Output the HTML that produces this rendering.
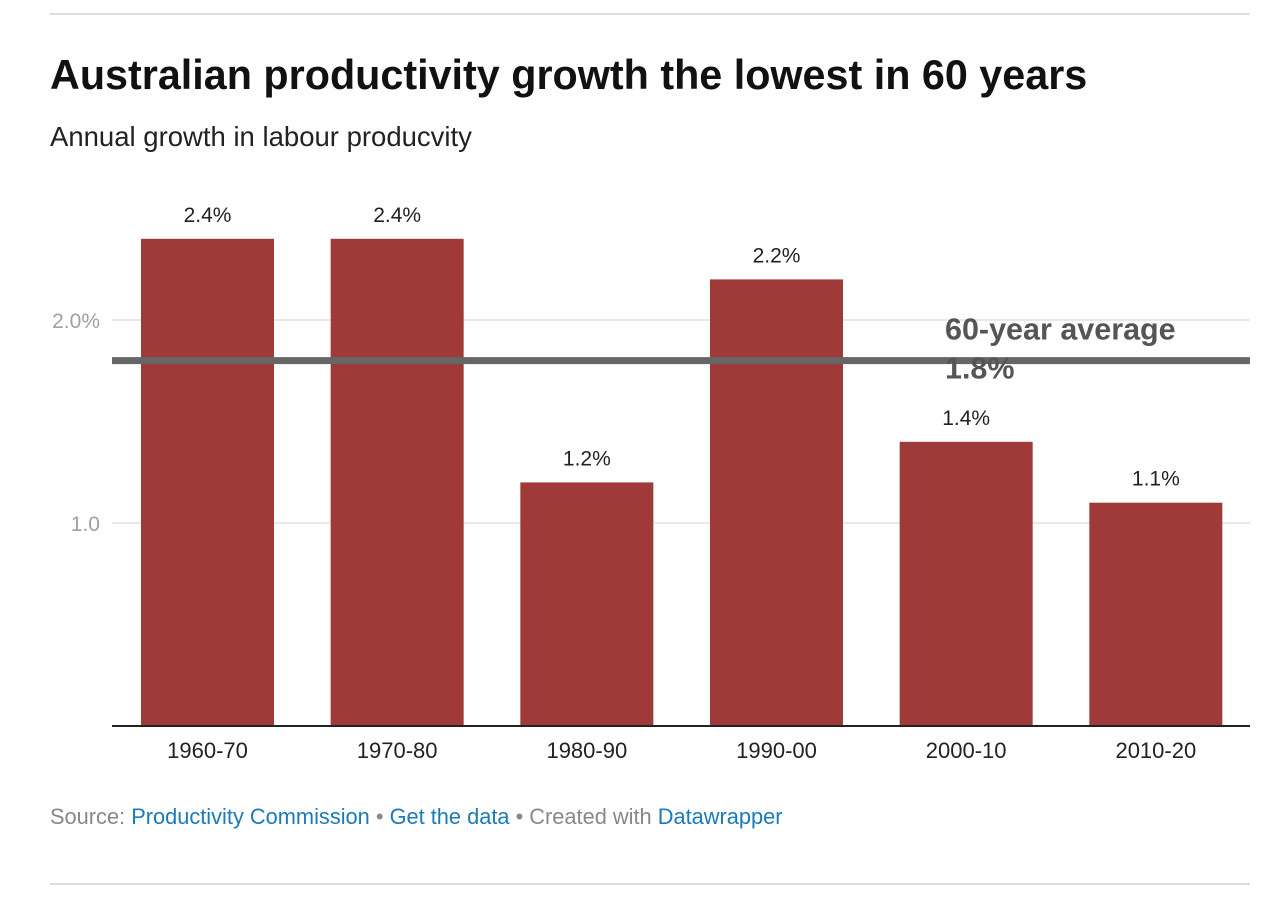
<!DOCTYPE html>
<html><head><meta charset="utf-8">
<style>
body{margin:0;background:#fff;font-family:"Liberation Sans",Arial,sans-serif;}
#wrap{position:relative;width:1278px;height:920px;overflow:hidden;}
.rule{position:absolute;left:50px;width:1200px;height:2px;background:#ddd;}
h1{position:absolute;left:50px;top:52px;margin:0;font-size:41.3px;font-weight:bold;color:#111;letter-spacing:0px;}
.sub{position:absolute;left:50px;top:121px;font-size:27.5px;color:#222;}
.foot{position:absolute;left:50px;top:804px;font-size:21.8px;color:#888;}
.foot a{color:#1b7ab8;text-decoration:none;}
</style></head><body>
<div id="wrap">
<div class="rule" style="top:13px"></div>
<h1>Australian productivity growth the lowest in 60 years</h1>
<div class="sub">Annual growth in labour producvity</div>
<svg id="chart" width="1278" height="920" style="position:absolute;left:0;top:0"></svg>
<div class="foot">Source: <a>Productivity Commission</a> • <a>Get the data</a> • Created with <a>Datawrapper</a></div>
<div class="rule" style="top:883px"></div>
</div>
<script>
const categories=["1960-70","1970-80","1980-90","1990-00","2000-10","2010-20"];
const values=[2.4,2.4,1.2,2.2,1.4,1.1];
const valueLabels=["2.4%","2.4%","1.2%","2.2%","1.4%","1.1%"];
const ticks=[1,2];
const tickLabels=["1.0","2.0%"];
const average=1.8;
const ns="http://www.w3.org/2000/svg";
const svg=document.getElementById("chart");
const x0=112,x1=1250,y0=726,unit=203;
const band=(x1-x0)/categories.length,pad=29,bw=133;
const y=v=>y0-v*unit;
const bx=i=>x0+i*band+pad;
function mk(t,a){const e=document.createElementNS(ns,t);for(const k in a)e.setAttribute(k,a[k]);svg.appendChild(e);return e;}
ticks.forEach((t,i)=>{
 const g=mk("line",{x1:x0,x2:x1,y1:y(t),y2:y(t),stroke:"#e2e2e2","stroke-width":1.5});
 
 
 const l=mk("text",{x:100,y:y(t)+8,"text-anchor":"end","font-size":21,fill:"#a0a0a0"});
 l.textContent=tickLabels[i];
 
 
});
categories.forEach((c,i)=>{
 const r=mk("rect",{x:bx(i),y:y(values[i]),width:bw,height:values[i]*unit,fill:"#a03a38"});
 
 
 const v=mk("text",{x:bx(i)+bw/2,y:y(values[i])-17,"text-anchor":"middle","font-size":21,fill:"#222"});
 v.textContent=valueLabels[i];
 
 
 const xl=mk("text",{x:bx(i)+bw/2,y:y0+32,"text-anchor":"middle","font-size":22,fill:"#222"});
 xl.textContent=c;
 
 
});
const base=mk("line",{x1:x0,x2:x1,y1:y0,y2:y0,stroke:"#222","stroke-width":2});


const avg=mk("line",{x1:x0,x2:x1,y1:y(average),y2:y(average),stroke:"#666","stroke-width":7});


const a1=mk("text",{x:945,y:y(average)-21,"font-size":30.5,"font-weight":"bold",fill:"#555"});
a1.textContent="60-year average";


const a2=mk("text",{x:945,y:y(average)+18,"font-size":30.5,"font-weight":"bold",fill:"#555"});
a2.textContent=average.toFixed(1)+"%";


</script>
</body></html>
